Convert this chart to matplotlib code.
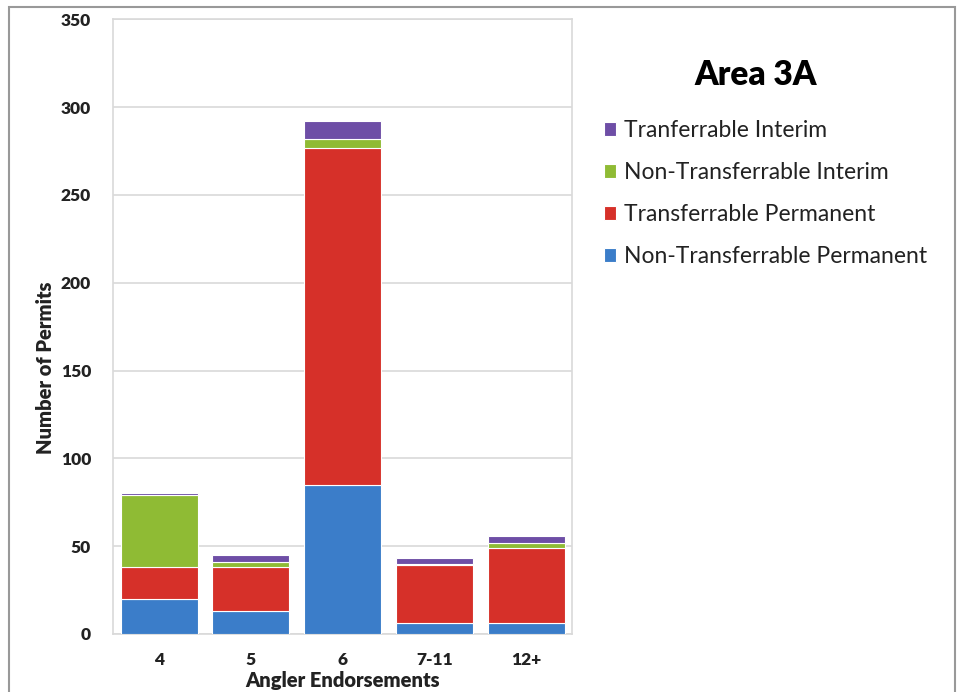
import numpy as np
import matplotlib.pyplot as plt
from matplotlib.patches import Rectangle

categories = ["4", "5", "6", "7-11", "12+"]
non_transf_perm = [20, 13, 85, 6, 6]
transf_perm = [18, 25, 192, 33, 43]
non_transf_interim = [41, 3, 5, 1, 3]
transf_interim = [1, 4, 10, 3, 4]

series = [
    ("Non-Transferrable Permanent", non_transf_perm, "#3b7dc9"),
    ("Transferrable Permanent", transf_perm, "#d63029"),
    ("Non-Transferrable Interim", non_transf_interim, "#8fbb34"),
    ("Tranferrable Interim", transf_interim, "#6e4ea6"),
]

plt.rcParams["font.family"] = ["Lato", "DejaVu Sans"]

fig = plt.figure(figsize=(9.6, 6.92), dpi=100)
fig.patches.append(Rectangle((0.009, -0.01), 0.986, 1.0, transform=fig.transFigure,
                             fill=False, edgecolor="#999999", linewidth=1.5))

ax = fig.add_axes([0.118, 0.084, 0.478, 0.888])
x = np.arange(len(categories))
bottom = np.zeros(len(categories))
handles = {}
for label, vals, color in series:
    vals = np.array(vals, dtype=float)
    b = ax.bar(x, vals, bottom=bottom, width=0.84, color=color,
               edgecolor="#ffffff", linewidth=0.8, label=label, zorder=3)
    handles[label] = b
    bottom += vals

ax.set_xlim(-0.5, len(categories) - 0.5)
ax.set_ylim(0, 350)
ax.set_yticks(range(0, 351, 50))
ax.set_xticks(x)
ax.set_xticklabels(categories)
ax.yaxis.grid(True, color="#d9d9d9", linewidth=1.2, zorder=0)
ax.tick_params(length=0, labelsize=12.5, pad=13)
ax.tick_params(axis="y", pad=16)
for lbl in ax.get_xticklabels() + ax.get_yticklabels():
    lbl.set_fontweight("heavy")
    lbl.set_color("#222222")
for s in ax.spines.values():
    s.set_color("#d9d9d9")
    s.set_linewidth(1.2)

ax.set_xlabel("Angler Endorsements", fontsize=14.5, fontweight="heavy", labelpad=2, color="#222222")
ax.set_ylabel("Number of Permits", fontsize=14.5, fontweight="heavy", color="#222222")
ax.yaxis.set_label_coords(-0.128, 0.433)

fig.text(0.787, 0.891, "Area 3A", fontsize=24, fontweight="heavy", ha="center", va="center")

order = ["Tranferrable Interim", "Non-Transferrable Interim",
         "Transferrable Permanent", "Non-Transferrable Permanent"]
fig.legend([handles[k] for k in order], order, loc="upper left",
           bbox_to_anchor=(0.612, 0.850), frameon=False, fontsize=16.5,
           handlelength=0.55, handleheight=0.55, handletextpad=0.35,
           labelspacing=0.92, labelcolor="#222222", borderpad=0.2)

fig.savefig("out.png", dpi=100, facecolor="white")
